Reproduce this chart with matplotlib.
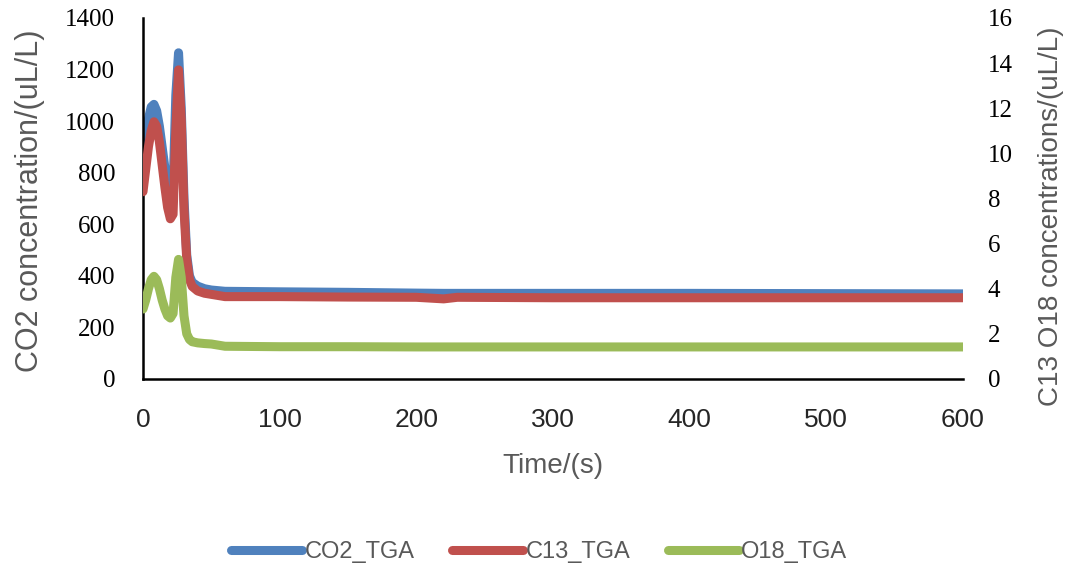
import matplotlib.pyplot as plt

# time axis (s)
time = [0, 2, 4, 6, 8, 10, 12, 14, 16, 18, 20, 22, 24, 26, 28, 30, 32, 34, 36, 40,
        45, 50, 60, 100, 150, 200, 220, 230, 300, 400, 500, 600]

# CO2 on left axis (uL/L)
co2 = [850, 930, 1010, 1055, 1065, 1040, 980, 900, 820, 760, 720, 740, 1100, 1265, 1050, 700,
       480, 400, 375, 360, 350, 345, 340, 338, 336, 333, 332, 332, 332, 332, 331, 330]

# C13 and O18 on right axis (uL/L)
c13 = [8.3, 9.3, 10.3, 11.0, 11.4, 11.2, 10.5, 9.5, 8.5, 7.6, 7.1, 7.3, 11.0, 13.7, 11.5, 7.5,
       5.3, 4.4, 4.1, 3.9, 3.8, 3.75, 3.65, 3.65, 3.63, 3.62, 3.55, 3.62, 3.6, 3.6, 3.6, 3.6]
o18 = [3.1, 3.5, 4.0, 4.4, 4.55, 4.4, 4.0, 3.5, 3.1, 2.8, 2.7, 2.9, 4.5, 5.3, 4.5, 2.8,
       2.0, 1.75, 1.65, 1.6, 1.57, 1.55, 1.45, 1.43, 1.43, 1.42, 1.42, 1.42, 1.42, 1.42, 1.42, 1.42]

gray = '#595959'
sans = ['Liberation Sans Narrow', 'Liberation Sans', 'DejaVu Sans']

fig = plt.figure(figsize=(10.72, 5.71), dpi=100)
ax = fig.add_axes([0.1334, 0.3363, 0.7649, 0.6322])
ax2 = ax.twinx()

l1, = ax.plot(time, co2, color='#4F81BD', lw=6.5, solid_capstyle='round', label='CO2_TGA')
l2, = ax2.plot(time, c13, color='#C0504D', lw=6.5, solid_capstyle='round', label='C13_TGA')
l3, = ax2.plot(time, o18, color='#9BBB59', lw=6.5, solid_capstyle='round', label='O18_TGA')

ax.set_xlim(0, 600)
ax.set_ylim(0, 1400)
ax2.set_ylim(0, 16)
ax.set_xticks(range(0, 601, 100))
ax.set_yticks(range(0, 1401, 200))
ax2.set_yticks(range(0, 17, 2))

for a in (ax, ax2):
    for s in ('top', 'right'):
        a.spines[s].set_visible(False)
ax2.spines['left'].set_visible(False)
ax2.spines['bottom'].set_visible(False)
ax.spines['left'].set_linewidth(1.8)
ax.spines['bottom'].set_linewidth(1.8)

ax.tick_params(axis='y', length=0, pad=20, labelsize=18)
ax2.tick_params(axis='y', length=0, pad=18, labelsize=18)
ax.tick_params(axis='x', length=0, pad=21, labelsize=19, labelcolor='#262626')
for lab in ax.get_yticklabels() + ax2.get_yticklabels():
    lab.set_fontfamily('Liberation Serif')
for lab in ax.get_xticklabels():
    lab.set_fontfamily(sans)

ax.set_xlabel('Time/(s)', fontsize=20, color=gray, family=sans)
ax.xaxis.set_label_coords(0.5, -0.205)
ax.set_ylabel('CO2 concentration/(uL/L)', fontsize=22, color=gray, family=sans)
ax.yaxis.set_label_coords(-0.12, 0.495)
ax2.set_ylabel('C13 O18 concentrations/(uL/L)', fontsize=20, color=gray, family=sans)
ax2.yaxis.set_label_coords(1.092, 0.452)

fig.legend(handles=[l1, l2, l3], loc='center', bbox_to_anchor=(0.503, 0.033), ncol=3,
           frameon=False, prop={'family': sans, 'size': 17}, labelcolor=gray,
           handlelength=3.0, handletextpad=0.1, columnspacing=1.6)

plt.savefig('out.png', dpi=100)
